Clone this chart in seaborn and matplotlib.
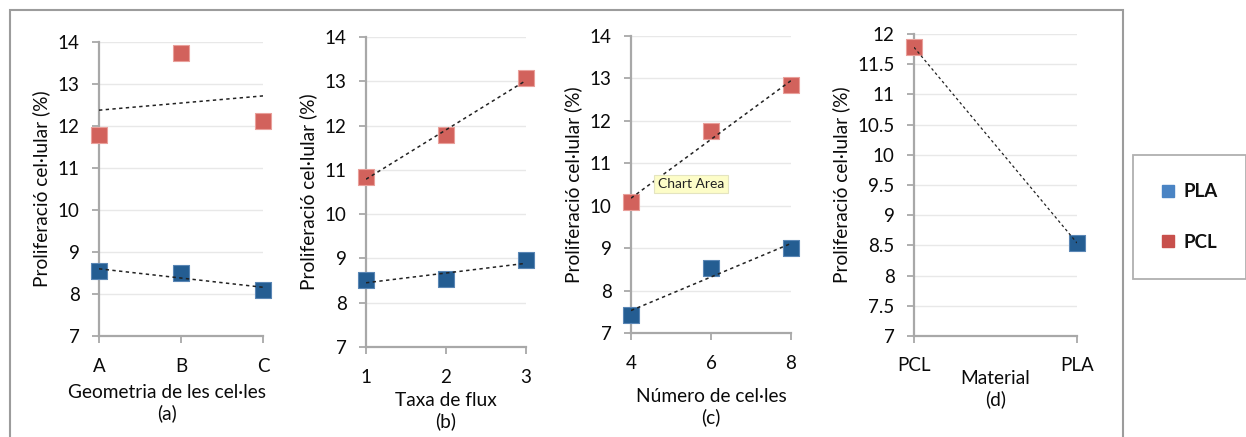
import numpy as np
import matplotlib
matplotlib.use("Agg")
import matplotlib.pyplot as plt
from matplotlib.lines import Line2D
from matplotlib.patches import Rectangle
import seaborn as sns

# ---------------- data ----------------
geom_labels = ["A", "B", "C"]
geom_pcl = [11.78, 13.74, 12.12]
geom_pla = [8.54, 8.50, 8.10]

flux_x = [1, 2, 3]
flux_pcl = [10.85, 11.78, 13.08]
flux_pla = [8.52, 8.53, 8.96]

ncel_x = [4, 6, 8]
ncel_pcl = [10.08, 11.76, 12.85]
ncel_pla = [7.42, 8.54, 9.00]

mat_labels = ["PCL", "PLA"]
mat_values = [11.78, 8.54]

ylabel = "Proliferació cel·lular (%)"
xlabels = ["Geometria de les cel·les\n(a)", "Taxa de flux\n(b)",
           "Número de cel·les\n(c)", "Material\n(d)"]

PCL_C = "#d2625c"
PLA_C = "#245d92"
EDGE_PCL = "#e9a09b"
EDGE_PLA = "#5a86b5"

sns.set_style("white")
plt.rcParams["font.family"] = ["Lato", "DejaVu Sans"]

W, H = 1246, 437
fig = plt.figure(figsize=(W / 100, H / 100), dpi=100)


def axes_px(l, r, t, b):
    return fig.add_axes([l / W, 1 - b / H, (r - l) / W, (b - t) / H])


frame = Rectangle((10 / W, -0.2), (1123 - 10) / W, 1.2 - 10 / H,
                  transform=fig.transFigure, fill=False,
                  edgecolor="#9c9c9c", linewidth=1.5)
fig.patches.append(frame)

boxes = [(99, 263, 42, 336), (366, 526, 37, 347), (631, 791, 36, 333), (914, 1077, 34, 336)]
axs = [axes_px(*b) for b in boxes]

MS = 125
TICK_FS = 13.5
LAB_FS = 13.8


def style(ax, ylim, yticks, xlim, xticks, xticklabels, xlabel, pad, xpad=11, lx=0.5):
    ax.set_ylim(*ylim)
    ax.set_yticks(yticks)
    ax.set_yticklabels([("%g" % v) for v in yticks])
    ax.set_xlim(*xlim)
    ax.set_xticks(xticks)
    ax.set_xticklabels(xticklabels)
    for s in ["top", "right"]:
        ax.spines[s].set_visible(False)
    for s in ["left", "bottom"]:
        ax.spines[s].set_color("#a8a8a8")
        ax.spines[s].set_linewidth(1.6)
    ax.yaxis.grid(True, color="#e8e8e8", linewidth=1.0)
    ax.xaxis.grid(False)
    ax.set_axisbelow(True)
    ax.tick_params(axis="both", which="major", length=5, width=1.3,
                   color="#a8a8a8", labelsize=TICK_FS, labelcolor="#0a0a0a",
                   left=True, bottom=True, direction="out")
    ax.tick_params(axis="y", pad=9)
    ax.tick_params(axis="x", pad=xpad)
    ax.set_ylabel(ylabel, fontsize=LAB_FS, color="#0a0a0a", labelpad=5)
    ax.set_xlabel(xlabel, fontsize=LAB_FS, color="#0a0a0a", labelpad=pad,
                  linespacing=1.22)
    ax.xaxis.label.set_x(lx)


def pts(ax, x, y, color, edge):
    sns.scatterplot(x=x, y=y, ax=ax, marker="s", s=MS, color=color,
                    edgecolor=edge, linewidth=0.8, clip_on=False, zorder=3)


def trend(ax, x, y, lw=1.1):
    sns.regplot(x=np.asarray(x, float), y=np.asarray(y, float), ax=ax,
                scatter=False, ci=None, truncate=True,
                line_kws=dict(color="#222222", linewidth=lw,
                              linestyle=(0, (2.2, 2.2)), zorder=4))


# (a)
ax = axs[0]
gx = np.arange(len(geom_labels))
pts(ax, gx, geom_pcl, PCL_C, EDGE_PCL)
pts(ax, gx, geom_pla, PLA_C, EDGE_PLA)
trend(ax, gx, geom_pcl)
trend(ax, gx, geom_pla)
style(ax, (7, 14), list(range(7, 15)), (0, 2), gx, geom_labels, xlabels[0], 6, lx=0.415)

# (b)
ax = axs[1]
pts(ax, flux_x, flux_pcl, PCL_C, EDGE_PCL)
pts(ax, flux_x, flux_pla, PLA_C, EDGE_PLA)
trend(ax, flux_x, flux_pcl)
trend(ax, flux_x, flux_pla)
style(ax, (7, 14), list(range(7, 15)), (1, 3), flux_x, [str(v) for v in flux_x], xlabels[1], 4)

# (c)
ax = axs[2]
pts(ax, ncel_x, ncel_pcl, PCL_C, EDGE_PCL)
pts(ax, ncel_x, ncel_pla, PLA_C, EDGE_PLA)
trend(ax, ncel_x, ncel_pcl)
trend(ax, ncel_x, ncel_pla)
style(ax, (7, 14), list(range(7, 15)), (4, 8), ncel_x, [str(v) for v in ncel_x], xlabels[2], 11)

# (d)
ax = axs[3]
mx = np.arange(len(mat_labels))
pts(ax, mx[:1], mat_values[:1], PCL_C, EDGE_PCL)
pts(ax, mx[1:], mat_values[1:], PLA_C, EDGE_PLA)
trend(ax, mx, mat_values, lw=0.9)
style(ax, (7, 12), list(np.arange(7, 12.01, 0.5)), (0, 1), mx, mat_labels, xlabels[3], -3, xpad=10)

# tooltip artefact
fig.text(691 / W, 1 - 184 / H, "Chart Area", fontsize=10, ha="center", va="center",
         color="#222222",
         bbox=dict(boxstyle="square,pad=0.25", facecolor="#fdfdc8",
                   edgecolor="#e4e4c0", linewidth=0.8))

# legend
handles = [Line2D([], [], marker="s", linestyle="none", markersize=9,
                  markerfacecolor="#4a84c4", markeredgecolor="#4a84c4"),
           Line2D([], [], marker="s", linestyle="none", markersize=9,
                  markerfacecolor="#c8504c", markeredgecolor="#c8504c")]
leg = fig.legend(handles, ["PLA", "PCL"], loc="center",
                 bbox_to_anchor=(1189 / W, 1 - 217 / H), frameon=True,
                 fancybox=False, edgecolor="#9c9c9c", borderpad=1.5,
                 labelspacing=1.8, handlelength=0.8, handletextpad=0.4,
                 borderaxespad=0, prop=dict(size=13.5, weight="bold"))
leg.get_frame().set_linewidth(1.3)
for t in leg.get_texts():
    t.set_color("#111111")

fig.savefig("out.png", dpi=100)
